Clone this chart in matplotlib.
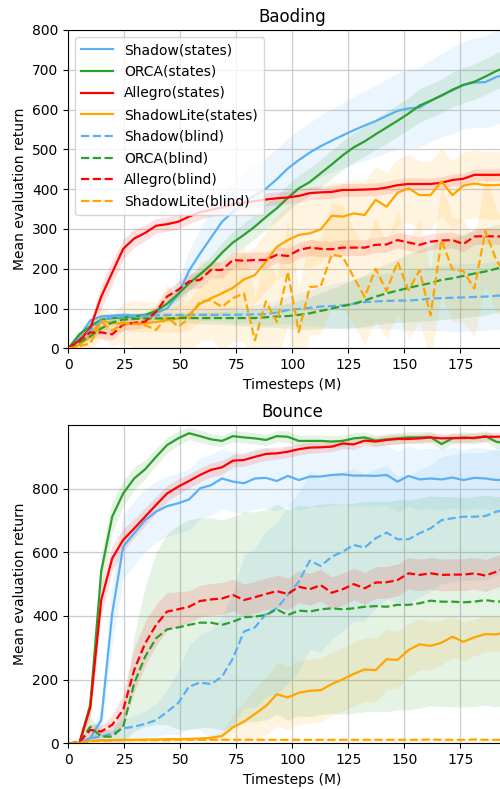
import numpy as np
import matplotlib
matplotlib.use("Agg")
import matplotlib.pyplot as plt

# x axis: evaluation timesteps (M)
timesteps = [round(i * 4.9, 1) for i in range(41)]

labels = ["Shadow(states)", "ORCA(states)", "Allegro(states)", "ShadowLite(states)",
          "Shadow(blind)", "ORCA(blind)", "Allegro(blind)", "ShadowLite(blind)"]
colors = ["#5ab0f5", "#2ca02c", "#ff0000", "#ffa500",
          "#5ab0f5", "#2ca02c", "#ff0000", "#ffa500"]
styles = ["-", "-", "-", "-", "--", "--", "--", "--"]

# ---------------- Baoding ----------------
baoding_shadow_states = [0, 30, 70, 80, 82, 84, 83, 81, 90, 100, 135, 195, 238, 278, 318, 343, 367, 385, 401, 425,
                         452, 473, 492, 508, 522, 535, 548, 560, 571, 584, 597, 603, 605, 622, 636, 648, 662, 668, 669, 682, 690]
baoding_orca_states = [0, 35, 55, 72, 76, 78, 80, 84, 94, 112, 136, 163, 186, 210, 240, 266, 285, 306, 330, 352,
                       378, 402, 418, 440, 462, 485, 505, 520, 538, 555, 572, 590, 610, 622, 635, 650, 662, 670, 683, 697, 708]
baoding_allegro_states = [0, 20, 50, 130, 190, 250, 276, 290, 308, 312, 318, 331, 342, 348, 354, 362, 366, 370, 374, 377,
                          379, 383, 390, 392, 393, 398, 398, 399, 400, 404, 410, 413, 413, 413, 416, 423, 426, 436, 436, 436, 437]
baoding_shadowlite_states = [0, 8, 30, 70, 63, 63, 62, 63, 66, 71, 75, 84, 112, 126, 138, 152, 173, 184, 218, 255,
                             272, 285, 289, 299, 333, 331, 339, 335, 373, 356, 391, 402, 385, 385, 419, 385, 409, 414, 410, 410, 413]
baoding_shadow_blind = [0, 20, 45, 70, 78, 80, 81, 82, 83, 84, 84, 84, 84, 84, 84, 84, 85, 85, 86, 90,
                        96, 99, 102, 105, 106, 108, 112, 116, 118, 119, 120, 120, 122, 125, 126, 127, 128, 129, 130, 132, 134]
baoding_orca_blind = [0, 15, 30, 50, 65, 72, 74, 75, 75, 75, 76, 76, 76, 76, 76, 76, 76, 76, 78, 80,
                      81, 84, 88, 94, 100, 106, 112, 120, 130, 138, 145, 152, 158, 164, 172, 176, 182, 188, 193, 200, 210]
baoding_allegro_blind = [0, 20, 40, 40, 35, 60, 64, 67, 92, 130, 147, 168, 172, 197, 197, 222, 220, 222, 222, 235,
                         232, 247, 253, 250, 249, 253, 253, 253, 260, 261, 272, 266, 260, 268, 271, 272, 262, 281, 282, 281, 282]
baoding_shadowlite_blind = [0, 5, 12, 66, 45, 63, 62, 58, 46, 80, 54, 75, 118, 121, 104, 126, 138, 20, 118, 66,
                            192, 41, 154, 156, 236, 230, 179, 129, 200, 144, 217, 146, 196, 83, 272, 198, 194, 150, 295, 221, 180]

baoding_shadow_states_std = [0, 5, 8, 6, 5, 5, 5, 6, 10, 20, 35, 50, 60, 70, 75, 80, 80, 80, 78, 76,
                             75, 75, 76, 78, 80, 82, 85, 88, 90, 92, 95, 98, 100, 102, 105, 108, 110, 112, 115, 118, 120]
baoding_orca_states_std = [0, 8, 10, 10, 8, 6, 6, 8, 10, 12, 15, 18, 20, 22, 25, 28, 30, 30, 32, 32,
                           33, 34, 35, 35, 36, 36, 37, 38, 38, 40, 40, 40, 42, 42, 42, 44, 44, 45, 45, 46, 46]
baoding_allegro_states_std = [0, 10, 20, 30, 30, 25, 22, 20, 18, 18, 18, 18, 18, 17, 17, 17, 16, 16, 16, 16,
                              16, 16, 16, 16, 16, 16, 16, 16, 16, 16, 16, 16, 15, 15, 15, 15, 15, 15, 15, 15, 15]
baoding_shadowlite_states_std = [0, 5, 15, 20, 20, 20, 20, 22, 25, 30, 35, 40, 45, 50, 55, 60, 65, 70, 75, 80,
                                 85, 85, 85, 85, 85, 85, 85, 85, 85, 85, 85, 85, 85, 85, 85, 85, 85, 85, 85, 85, 85]
baoding_shadow_blind_std = [0, 8, 10, 8, 8, 8, 8, 8, 8, 8, 8, 10, 12, 15, 18, 20, 22, 25, 28, 30,
                            35, 40, 45, 50, 55, 60, 62, 65, 68, 70, 72, 75, 78, 80, 82, 85, 85, 85, 85, 85, 85]
baoding_orca_blind_std = [0, 5, 10, 10, 10, 10, 10, 10, 10, 10, 12, 12, 14, 15, 16, 18, 20, 22, 25, 28,
                          32, 36, 40, 45, 50, 55, 60, 65, 70, 75, 80, 85, 90, 95, 100, 102, 105, 108, 110, 110, 110]
baoding_allegro_blind_std = [0, 8, 15, 15, 15, 15, 15, 15, 15, 18, 20, 20, 20, 20, 20, 20, 20, 20, 20, 20,
                             20, 20, 20, 20, 20, 20, 20, 20, 20, 20, 20, 20, 20, 20, 20, 20, 20, 20, 20, 20, 20]
baoding_shadowlite_blind_std = [0, 10, 20, 40, 40, 50, 60, 60, 70, 80, 80, 90, 100, 100, 110, 110, 120, 110, 120, 110,
                                130, 110, 120, 120, 130, 130, 120, 120, 130, 120, 130, 120, 130, 110, 140, 130, 130, 120, 140, 130, 120]

# ---------------- Bounce ----------------
bounce_shadow_states = [0, 0, 16, 73, 408, 618, 660, 701, 728, 745, 754, 766, 801, 811, 832, 822, 817, 832, 834, 824,
                        840, 827, 838, 838, 843, 845, 841, 841, 840, 843, 822, 840, 829, 832, 829, 835, 827, 834, 832, 827, 829]
bounce_orca_states = [0, 0, 120, 540, 712, 785, 832, 861, 900, 937, 958, 974, 965, 955, 950, 965, 961, 958, 953, 965,
                      963, 950, 950, 950, 948, 950, 958, 961, 951, 955, 958, 961, 961, 962, 940, 958, 961, 958, 965, 947, 942]
bounce_allegro_states = [0, 0, 112, 450, 581, 639, 675, 712, 749, 785, 806, 824, 843, 859, 867, 888, 890, 900, 909, 911,
                         916, 924, 929, 930, 932, 942, 939, 951, 948, 953, 956, 956, 958, 961, 958, 959, 959, 960, 963, 963, 965]
bounce_shadowlite_states = [0, 2, 8, 10, 10, 11, 11, 12, 12, 13, 13, 14, 15, 17, 23, 50, 68, 92, 117, 154,
                            144, 159, 165, 167, 186, 201, 218, 232, 230, 264, 262, 293, 311, 306, 316, 335, 319, 333, 343, 342, 351]
bounce_shadow_blind = [0, 2, 16, 21, 31, 47, 52, 61, 73, 99, 126, 178, 191, 186, 209, 267, 351, 364, 406, 424,
                       466, 508, 574, 557, 586, 602, 623, 615, 644, 662, 641, 641, 660, 675, 701, 707, 712, 712, 714, 728, 733]
bounce_orca_blind = [0, 3, 52, 21, 21, 52, 188, 272, 330, 358, 364, 372, 379, 379, 372, 382, 396, 398, 403, 421,
                     403, 417, 414, 421, 424, 421, 424, 429, 431, 429, 435, 435, 440, 448, 445, 445, 443, 445, 450, 445, 447]
bounce_allegro_blind = [0, 3, 42, 37, 58, 105, 230, 314, 372, 414, 421, 429, 447, 452, 455, 466, 450, 459, 469, 478,
                        469, 492, 484, 497, 473, 484, 500, 487, 505, 506, 513, 534, 529, 534, 529, 530, 530, 534, 527, 539, 552]
bounce_shadowlite_blind = [0, 2, 6, 8, 9, 10, 10, 10, 10, 10, 11, 11, 11, 11, 11, 11, 11, 11, 11, 11,
                           11, 11, 11, 11, 11, 11, 11, 11, 11, 11, 11, 11, 11, 12, 11, 11, 11, 12, 11, 11, 11]

bounce_shadow_states_std = [0, 2, 10, 40, 100, 100, 100, 100, 95, 95, 95, 95, 95, 95, 95, 95, 95, 95, 95, 95,
                            95, 95, 95, 95, 95, 95, 95, 95, 95, 95, 95, 95, 95, 95, 95, 95, 95, 95, 95, 95, 95]
bounce_orca_states_std = [0, 2, 40, 60, 50, 40, 35, 30, 28, 25, 22, 20, 20, 18, 18, 18, 18, 18, 18, 18,
                          18, 18, 18, 18, 18, 18, 18, 18, 18, 18, 18, 18, 18, 18, 20, 18, 18, 18, 18, 20, 20]
bounce_allegro_states_std = [0, 2, 30, 50, 40, 35, 30, 28, 26, 25, 24, 22, 22, 22, 22, 20, 20, 20, 20, 18,
                             18, 18, 18, 16, 16, 16, 16, 15, 15, 15, 15, 14, 14, 14, 14, 14, 14, 14, 14, 14, 14]
bounce_shadowlite_states_std = [0, 1, 3, 4, 4, 4, 4, 4, 4, 5, 5, 5, 6, 8, 15, 40, 60, 80, 90, 100,
                                100, 100, 100, 100, 100, 100, 100, 100, 100, 95, 90, 85, 80, 75, 70, 65, 60, 58, 56, 55, 55]
bounce_shadow_blind_std = [0, 2, 10, 15, 20, 30, 35, 40, 50, 70, 100, 130, 150, 170, 190, 210, 240, 250, 260, 270,
                           280, 280, 280, 270, 260, 250, 240, 230, 220, 210, 200, 200, 200, 200, 200, 200, 200, 200, 200, 200, 200]
bounce_orca_blind_std = [0, 3, 30, 20, 20, 50, 150, 220, 270, 300, 320, 330, 330, 330, 330, 330, 330, 330, 330, 330,
                         330, 330, 330, 330, 330, 330, 330, 330, 330, 330, 330, 330, 330, 330, 330, 330, 330, 330, 330, 330, 330]
bounce_allegro_blind_std = [0, 3, 20, 20, 30, 50, 70, 70, 65, 60, 55, 50, 50, 50, 50, 50, 50, 50, 50, 50,
                            50, 50, 50, 50, 50, 50, 50, 50, 50, 50, 50, 50, 50, 50, 50, 50, 50, 50, 50, 50, 50]
bounce_shadowlite_blind_std = [0, 1, 2, 3, 3, 3, 3, 3, 3, 3, 3, 3, 3, 3, 3, 3, 3, 3, 3, 3,
                               3, 3, 3, 3, 3, 3, 3, 3, 3, 3, 3, 3, 3, 3, 3, 3, 3, 3, 3, 3, 3]

baoding_means = [baoding_shadow_states, baoding_orca_states, baoding_allegro_states, baoding_shadowlite_states,
                 baoding_shadow_blind, baoding_orca_blind, baoding_allegro_blind, baoding_shadowlite_blind]
baoding_stds = [baoding_shadow_states_std, baoding_orca_states_std, baoding_allegro_states_std,
                baoding_shadowlite_states_std, baoding_shadow_blind_std, baoding_orca_blind_std,
                baoding_allegro_blind_std, baoding_shadowlite_blind_std]
bounce_means = [bounce_shadow_states, bounce_orca_states, bounce_allegro_states, bounce_shadowlite_states,
                bounce_shadow_blind, bounce_orca_blind, bounce_allegro_blind, bounce_shadowlite_blind]
bounce_stds = [bounce_shadow_states_std, bounce_orca_states_std, bounce_allegro_states_std,
               bounce_shadowlite_states_std, bounce_shadow_blind_std, bounce_orca_blind_std,
               bounce_allegro_blind_std, bounce_shadowlite_blind_std]

fig = plt.figure(figsize=(5.0, 7.89), dpi=100)
W, H = 500.0, 789.0
x0_px = 68.3
px_per_unit = 56.0 / 25.0
xmax = 200
ax_w = xmax * px_per_unit / W
ax1 = fig.add_axes([x0_px / W, (H - 348.3) / H, ax_w, 318.3 / H])
ax2 = fig.add_axes([x0_px / W, (H - 743.3) / H, ax_w, 318.3 / H])

x = np.array(timesteps)

def draw(ax, means, stds, title, ylim, yticks, legend):
    for m, s, c in zip(means, stds, colors):
        m = np.array(m, float)
        s = np.array(s, float)
        ax.fill_between(x, m - s, m + s, color=c, alpha=0.12, linewidth=0)
    for m, c, ls, lab in zip(means, colors, styles, labels):
        ax.plot(x, m, color=c, linestyle=ls, linewidth=1.6, label=lab)
    ax.set_xlim(0, xmax)
    ax.set_ylim(*ylim)
    ax.set_yticks(yticks)
    ax.set_xticks([0, 25, 50, 75, 100, 125, 150, 175])
    ax.grid(True, color="#cccccc", linewidth=0.9)
    ax.set_axisbelow(True)
    ax.set_title(title, fontsize=12)
    ax.set_xlabel("Timesteps (M)", fontsize=10)
    ax.set_ylabel("Mean evaluation return", fontsize=10)
    ax.tick_params(labelsize=10)
    if legend:
        ax.legend(loc="upper left", fontsize=10, handlelength=2.25, handletextpad=0.8,
                  labelspacing=0.55, borderpad=0.45)

draw(ax1, baoding_means, baoding_stds, "Baoding", (0, 800), [0, 100, 200, 300, 400, 500, 600, 700, 800], True)
draw(ax2, bounce_means, bounce_stds, "Bounce", (0, 1000), [0, 200, 400, 600, 800], False)

fig.savefig("out.png", dpi=100)
